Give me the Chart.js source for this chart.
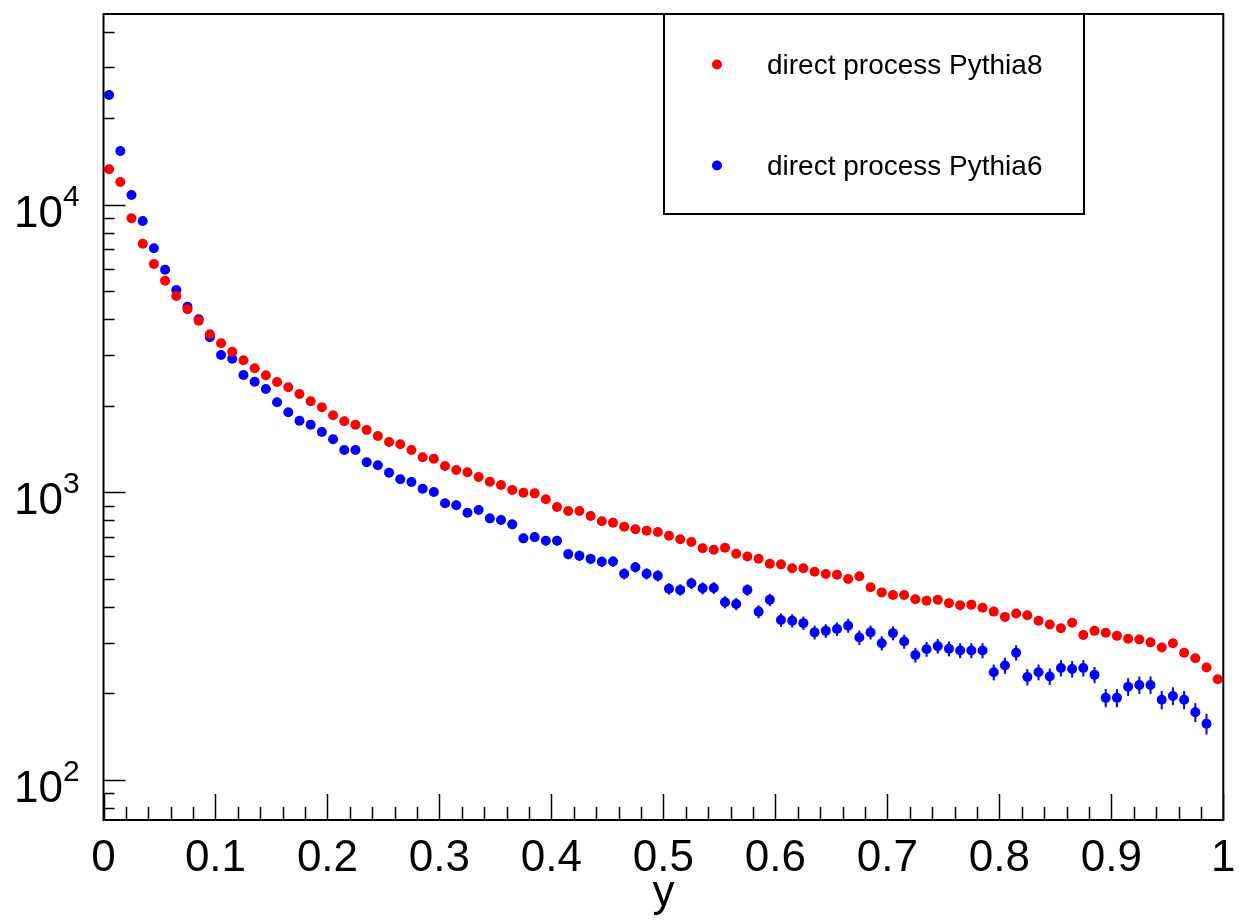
<!DOCTYPE html>
<html>
<head>
<meta charset="utf-8">
<title>direct process: Pythia8 vs Pythia6</title>
<script src="https://cdn.jsdelivr.net/npm/chart.js@4/dist/chart.umd.min.js"></script>
<style>
  html, body { margin: 0; padding: 0; background: #ffffff; }
  #wrap { width: 1239px; height: 920px; position: relative; }
</style>
</head>
<body>
<div id="wrap"><canvas id="c" width="1239" height="920"></canvas></div>
<script>
// Histogram binning in y
const nBins = 100;
const binLow = 0;
const binHigh = 1;

// Axis ticks
const xTickValues = [0, 0.1, 0.2, 0.3, 0.4, 0.5, 0.6, 0.7, 0.8, 0.9, 1];
const xTickLabels = ['0', '0.1', '0.2', '0.3', '0.4', '0.5', '0.6', '0.7', '0.8', '0.9', '1'];
const yTickExponents = [2, 3, 4];
const xTitle = 'y';

// Legend entries
const seriesNames = ['direct process Pythia8', 'direct process Pythia6'];
const seriesColors = ['#ff0000', '#0000ff'];

// Bin contents, Pythia8
const pythia8 = [
  13280, 11990, 8970, 7317, 6220, 5443, 4815, 4329, 3951, 3544,
  3298, 3083, 2878, 2700, 2552, 2419, 2318, 2197, 2073, 1976,
  1853, 1766, 1719, 1648, 1570, 1496, 1469, 1404, 1324, 1309,
  1235, 1196, 1174, 1131, 1089, 1060, 1019, 997, 992, 946,
  889, 861, 861, 828, 793, 784, 760, 744, 736, 728,
  707, 687, 672, 639, 632, 642, 612, 598, 588, 565,
  562, 545, 545, 530, 520, 517, 500, 511, 468, 449,
  440, 440, 425, 420, 423, 412, 405, 407, 397, 385,
  369, 379, 374, 358, 347, 337, 352, 319, 330, 325,
  317, 310, 308, 301, 289, 299, 277, 265, 246, 224
];

// Bin contents, Pythia6
const pythia6 = [
  24070, 15370, 10810, 8777, 7053, 5943, 5052, 4420, 3996, 3459,
  3003, 2915, 2559, 2425, 2287, 2056, 1898, 1775, 1719, 1621,
  1529, 1404, 1404, 1272, 1242, 1171, 1110, 1086, 1030, 1003,
  916, 902, 850, 868, 812, 801, 774, 692, 699, 679,
  679, 610, 602, 587, 574, 575, 521, 549, 521, 513,
  462, 458, 483, 464, 465, 415, 409, 458, 385, 423,
  360, 358, 351, 326, 330, 335, 344, 313, 326, 299,
  324, 303, 272, 285, 292, 286, 282, 282, 282, 237,
  250, 277, 228, 237, 229, 245, 243, 245, 232, 193,
  193, 211, 214, 214, 190, 196, 190, 172, 157, null
];

// Bin errors, Pythia6
const pythia6Err = [
  155, 124, 104, 94, 84, 77, 71, 66, 63, 59,
  55, 54, 51, 49, 48, 45, 44, 42, 41, 40,
  39, 37, 37, 36, 35, 34, 33, 33, 32, 32,
  30, 30, 29, 29, 28, 28, 28, 26, 26, 26,
  26, 25, 25, 24, 24, 24, 23, 23, 23, 23,
  21, 21, 22, 22, 22, 20, 20, 21, 20, 21,
  19, 19, 19, 18, 18, 18, 19, 18, 18, 17,
  18, 17, 16, 17, 17, 17, 17, 17, 17, 15,
  16, 17, 15, 15, 15, 16, 16, 16, 15, 14,
  14, 15, 15, 15, 14, 14, 14, 13, 13, null
];

const binWidth = (binHigh - binLow) / nBins;
function toPoints(values) {
  const pts = [];
  values.forEach((v, i) => {
    if (v !== null) pts.push({ x: binLow + (i + 0.5) * binWidth, y: v });
  });
  return pts;
}

const FONT = '"Liberation Sans", Arial, Helvetica, sans-serif';

// Frame, ticks, labels, legend, error bars
const rootStyle = {
  id: 'rootStyle',
  beforeDatasetsDraw(chart) {
    const ctx = chart.ctx;
    const xs = chart.scales.x, ys = chart.scales.y;
    ctx.save();
    ctx.strokeStyle = seriesColors[1];
    ctx.lineWidth = 2;
    pythia6.forEach((v, i) => {
      const e = pythia6Err[i];
      if (v === null || e === null) return;
      const px = xs.getPixelForValue(binLow + (i + 0.5) * binWidth);
      ctx.beginPath();
      ctx.moveTo(px, ys.getPixelForValue(v + e));
      ctx.lineTo(px, ys.getPixelForValue(Math.max(v - e, ys.min)));
      ctx.stroke();
    });
    ctx.restore();
  },
  afterDraw(chart) {
    const ctx = chart.ctx;
    const a = chart.chartArea;
    const xs = chart.scales.x, ys = chart.scales.y;
    ctx.save();
    ctx.strokeStyle = '#000';
    ctx.fillStyle = '#000';

    // frame
    ctx.lineWidth = 2;
    ctx.strokeRect(a.left, a.top, a.right - a.left, a.bottom - a.top);

    // x ticks (major every 0.1, minor every 0.02)
    ctx.lineWidth = 1.5;
    for (let k = 0; k <= 50; k++) {
      const v = k * 0.02;
      const px = Math.round(xs.getPixelForValue(v)) + 0.5;
      const len = (k % 5 === 0) ? 26 : 13;
      ctx.beginPath();
      ctx.moveTo(px, a.bottom);
      ctx.lineTo(px, a.bottom - len);
      ctx.stroke();
    }

    // y ticks (log decades with 2..9 subdivisions)
    for (let d = 1; d <= 4; d++) {
      for (let m = 1; m <= 9; m++) {
        const v = m * Math.pow(10, d);
        if (v < ys.min || v > ys.max) continue;
        const py = Math.round(ys.getPixelForValue(v)) + 0.5;
        const len = (m === 1) ? 22 : 11;
        ctx.beginPath();
        ctx.moveTo(a.left, py);
        ctx.lineTo(a.left + len, py);
        ctx.stroke();
      }
    }

    // x tick labels
    ctx.font = '44px ' + FONT;
    ctx.textAlign = 'center';
    ctx.textBaseline = 'alphabetic';
    xTickValues.forEach((v, i) => {
      ctx.fillText(xTickLabels[i], xs.getPixelForValue(v), 871);
    });

    // y tick labels as 10^n
    yTickExponents.forEach(n => {
      const py = ys.getPixelForValue(Math.pow(10, n));
      ctx.font = '44px ' + FONT;
      ctx.textAlign = 'right';
      ctx.fillText('10', 63, py + 22);
      ctx.font = '30px ' + FONT;
      ctx.textAlign = 'left';
      ctx.fillText(String(n), 63, py + 1);
    });

    // x axis title
    ctx.font = '44px ' + FONT;
    ctx.textAlign = 'center';
    ctx.fillText(xTitle, (a.left + a.right) / 2, 906);

    // legend box
    ctx.fillStyle = '#fff';
    ctx.fillRect(664, 14, 420, 200);
    ctx.lineWidth = 2;
    ctx.strokeStyle = '#000';
    ctx.strokeRect(664, 14, 420, 200);
    const rowY = [64.5, 165.5];
    seriesNames.forEach((name, i) => {
      ctx.fillStyle = seriesColors[i];
      ctx.beginPath();
      ctx.arc(717, rowY[i], 5, 0, Math.PI * 2);
      ctx.fill();
      ctx.fillStyle = '#000';
      ctx.font = '28px ' + FONT;
      ctx.textAlign = 'left';
      ctx.fillText(name, 767, rowY[i] + 9);
    });

    ctx.restore();
  }
};

new Chart(document.getElementById('c'), {
  type: 'scatter',
  data: {
    datasets: [
      {
        label: seriesNames[0],
        data: toPoints(pythia8),
        backgroundColor: seriesColors[0],
        borderColor: seriesColors[0],
        pointRadius: 5,
        pointBorderWidth: 0,
        showLine: false,
        clip: false
      },
      {
        label: seriesNames[1],
        data: toPoints(pythia6),
        backgroundColor: seriesColors[1],
        borderColor: seriesColors[1],
        pointRadius: 5,
        pointBorderWidth: 0,
        showLine: false,
        clip: false
      }
    ]
  },
  options: {
    responsive: false,
    animation: false,
    events: [],
    layout: { padding: { left: 103.5, right: 15.7, top: 14, bottom: 100 } },
    plugins: { legend: { display: false }, tooltip: { enabled: false }, title: { display: false } },
    scales: {
      x: { type: 'linear', display: false, min: binLow, max: binHigh },
      y: { type: 'logarithmic', display: false, min: 72.6, max: 46030 }
    }
  },
  plugins: [rootStyle]
});
</script>
</body>
</html>
